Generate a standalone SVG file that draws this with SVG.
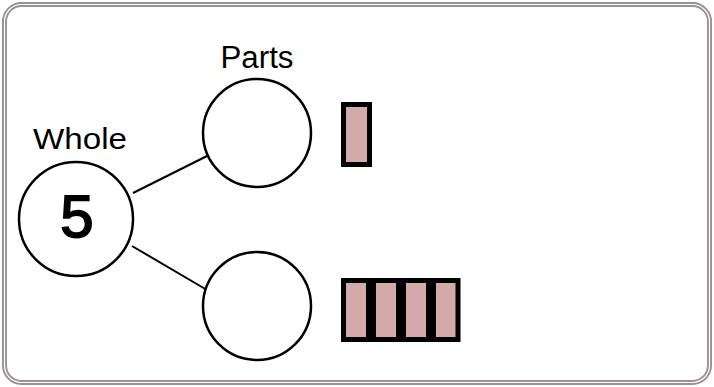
<svg xmlns="http://www.w3.org/2000/svg" width="714" height="387" viewBox="0 0 714 387">
<style>
.frame{fill:none;stroke:#9c9090;stroke-width:5}
.frame2{fill:none;stroke:#ffffff;stroke-width:1.2}
.node{fill:#ffffff;stroke:#000000;stroke-width:2.5}
.conn{stroke:#000000;stroke-width:2;fill:none}
.lbl{font-family:"Liberation Sans",Arial,sans-serif;font-size:29px;fill:#000000}
.num{font-family:"Liberation Sans",Arial,sans-serif;font-size:60px;fill:#000000;stroke:#000000;stroke-width:1.8}
.bar{fill:#d4a9aa;stroke:#000000;stroke-width:5}
</style>
<rect width="714" height="387" fill="#ffffff"/>
<rect class="frame" x="4.5" y="4.5" width="705" height="378" rx="17"/>
<rect class="frame2" x="4.5" y="4.5" width="705" height="378" rx="17"/>
<g id="connectors">
<line class="conn" x1="133" y1="193" x2="207" y2="156"/>
<line class="conn" x1="132" y1="246" x2="207" y2="290"/>
</g>
<g id="whole">
<circle class="node" cx="76" cy="219" r="57"/>
<text class="num" x="77" y="237" text-anchor="middle">5</text>
<text class="lbl" x="80" y="149" text-anchor="middle" textLength="94" lengthAdjust="spacingAndGlyphs">Whole</text>
</g>
<g id="part1">
<circle class="node" cx="257" cy="133" r="54"/>
<text class="lbl" x="257" y="68" text-anchor="middle" style="font-size:31px" textLength="73" lengthAdjust="spacingAndGlyphs">Parts</text>
</g>
<g id="part2">
<circle class="node" cx="257" cy="306" r="54"/>
</g>
<g id="bars1">
<rect class="bar" x="343.5" y="104.5" width="26" height="60"/>
</g>
<g id="bars4">
<rect class="bar" x="343.5" y="280.5" width="25" height="59"/>
<rect class="bar" x="373.5" y="280.5" width="25" height="59"/>
<rect class="bar" x="403.5" y="280.5" width="25" height="59"/>
<rect class="bar" x="433.5" y="280.5" width="24.5" height="59"/>
</g>
</svg>
